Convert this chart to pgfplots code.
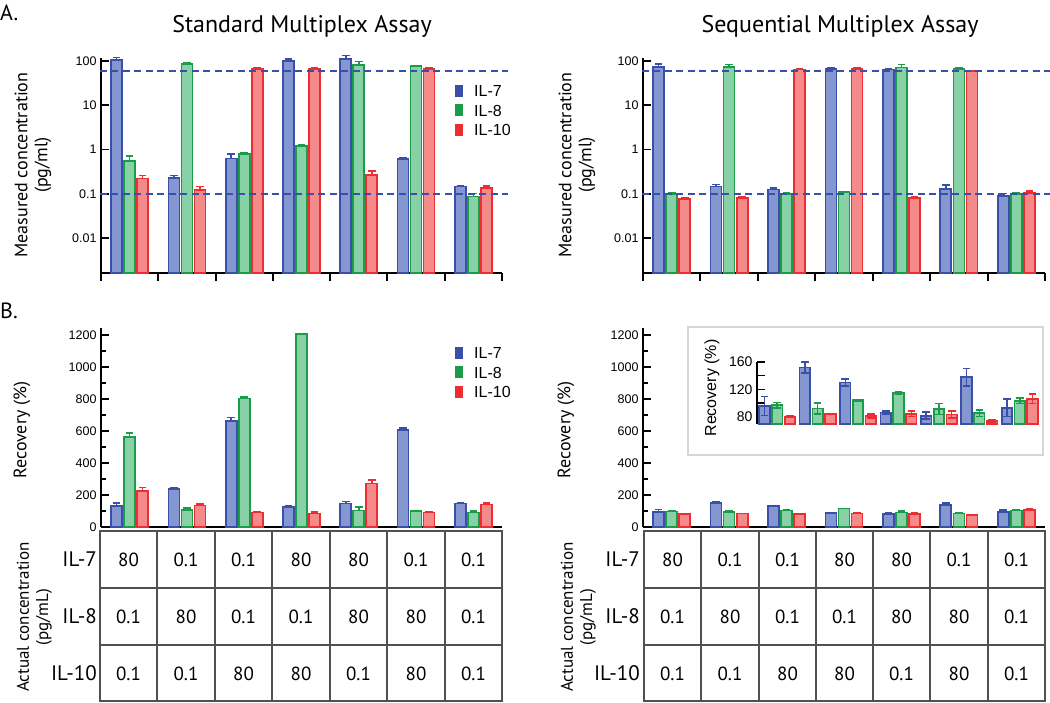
\documentclass[border=0pt]{standalone}
\usepackage{pgfplots}
\usepackage{pgfplotstable}
\pgfplotsset{compat=1.18}
\usepackage{fontspec}
\setmainfont{Liberation Sans}
\newfontfamily\myriad{PT Sans}

\definecolor{bS}{HTML}{3A4FA8}
\definecolor{bF}{HTML}{8597D0}
\definecolor{gS}{HTML}{1A9C4B}
\definecolor{gF}{HTML}{88D0A5}
\definecolor{rS}{HTML}{EE2D33}
\definecolor{rF}{HTML}{F58A8A}
\definecolor{dashc}{HTML}{3A4FA8}
\definecolor{gridc}{HTML}{505050}
\definecolor{boxc}{HTML}{D6D6D6}

\pgfplotsset{
  panel/.style={
    scale only axis, anchor=south west,
    xmin=-0.5, xmax=6.5, xtick=\empty,
    axis x line*=bottom, axis y line*=left,
    axis line style={line width=2pt, black, -},
    tick align=inside, major tick length=8pt, minor tick length=5pt,
    ytick style={line width=1.6pt, black},
    minor y tick style={line width=1.4pt, black},
    yticklabel style={font=\fontsize{12.5}{13}\selectfont, xshift=-1pt},
    clip=false,
  },
  bars/.style n args={4}{
    ybar, bar width=#3, bar shift=0pt, draw=#1, fill=#2, line width=1.7pt,
    error bars/y dir=#4, error bars/y explicit,
    error bars/error bar style={line width=1.5pt, draw=#1, solid},
    error bars/error mark options={line width=1.5pt, draw=#1, mark size=3.8pt, rotate=90},
  },
  refline/.style={dashc, line width=2pt, dash pattern=on 7pt off 4.5pt, no marks, forget plot},
}

% Panel A, standard: value, +error for IL-7 (a), IL-8 (b), IL-10 (c)
\pgfplotstableread{
x a ea b eb c ec
0 105 16 0.54 0.17 0.22 0.04
1 0.23 0.03 85 8 0.12 0.026
2 0.63 0.17 0.8 0.05 67 4
3 100 11 1.19 0.07 65 7
4 111 21 81 16 0.27 0.054
5 0.6 0.06 76 2.5 67 4
6 0.146 0.008 0.086 0.014 0.134 0.015
}\dataAL
% Panel A, sequential
\pgfplotstableread{
x a ea b eb c ec
0 73 12 0.1 0.003 0.077 0.003
1 0.146 0.016 73 9.6 0.081 0.003
2 0.125 0.009 0.1 0.003 64 3
3 66 3.5 0.109 0.004 66 3
4 64 3 71 11.6 0.08 0.007
5 0.13 0.027 66 5 58 2
6 0.089 0.011 0.1 0.003 0.105 0.011
}\dataAR
% Panel B, standard recovery
\pgfplotstableread{
x a ea b eb c ec
0 131 19 562 25 227 19
1 237 6 108 12 135 8
2 662 21 804 8 90 6
3 127 8 1206 4 85 10
4 146 12 104 21 271 23
5 608 10 98 4 90 6
6 146 8 90 10 140 10
}\dataBL
% Panel B, sequential recovery
\pgfplotstableread{
x a ea b eb c ec
0 95.6 13.7 97 4 80 1
1 152 8 92 8 84 1
2 130 5 104 1 81 3
3 86 2 115 2 84 4
4 81.5 5 91 8 83 5
5 137.6 12.7 85 5 74 2
6 93 12.7 103 4 106 7
}\dataBR

\begin{document}
\begin{tikzpicture}
\path[use as bounding box] (0pt,0pt) rectangle (1050pt,-703pt);

% ---------- Panel A left ----------
\begin{axis}[panel, at={(101pt,-273pt)}, width=401pt, height=215pt,
  ymode=log, log origin=infty, ymin=0.001618, ymax=116.9,
  ytick={0.01,0.1,1,10,100}, yticklabels={0.01,0.1,1,10,100}, yminorticks=false]
  \addplot[bars={bS}{bF}{11pt}{plus}] table[x expr=\thisrow{x}-0.227,y=a,y error=ea]{\dataAL};
  \addplot[bars={gS}{gF}{11pt}{plus}] table[x=x,y=b,y error=eb]{\dataAL};
  \addplot[bars={rS}{rF}{11pt}{plus}] table[x expr=\thisrow{x}+0.227,y=c,y error=ec]{\dataAL};
  \addplot[refline] coordinates {(-0.52,60) (6.6,60)};
  \addplot[refline] coordinates {(-0.52,0.1) (6.6,0.1)};
  \pgfplotsinvokeforeach{0,...,7}{\draw[black, line width=2pt] (rel axis cs:#1/7,0) -- ++(0pt,-8pt);}
\end{axis}

% ---------- Panel A right ----------
\begin{axis}[panel, at={(643pt,-273pt)}, width=402pt, height=215pt,
  ymode=log, log origin=infty, ymin=0.001618, ymax=116.9,
  ytick={0.01,0.1,1,10,100}, yticklabels={0.01,0.1,1,10,100}, yminorticks=false]
  \addplot[bars={bS}{bF}{11pt}{plus}] table[x expr=\thisrow{x}-0.227,y=a,y error=ea]{\dataAR};
  \addplot[bars={gS}{gF}{11pt}{plus}] table[x=x,y=b,y error=eb]{\dataAR};
  \addplot[bars={rS}{rF}{11pt}{plus}] table[x expr=\thisrow{x}+0.227,y=c,y error=ec]{\dataAR};
  \addplot[refline] coordinates {(-0.52,58) (6.59,58)};
  \addplot[refline] coordinates {(-0.52,0.1) (6.59,0.1)};
  \pgfplotsinvokeforeach{0,...,7}{\draw[black, line width=2pt] (rel axis cs:#1/7,0) -- ++(0pt,-8pt);}
\end{axis}

% ---------- Panel B left ----------
\begin{axis}[panel, at={(101pt,-527pt)}, width=401pt, height=199pt,
  ymin=0, ymax=1243.75,
  ytick={0,200,...,1200}, yticklabels={0,200,400,600,800,1000,1200}, minor y tick num=1]
  \addplot[bars={bS}{bF}{11pt}{plus}] table[x expr=\thisrow{x}-0.227,y=a,y error=ea]{\dataBL};
  \addplot[bars={gS}{gF}{11pt}{plus}] table[x=x,y=b,y error=eb]{\dataBL};
  \addplot[bars={rS}{rF}{11pt}{plus}] table[x expr=\thisrow{x}+0.227,y=c,y error=ec]{\dataBL};
\end{axis}

% ---------- Panel B right ----------
\draw[draw=boxc, line width=2pt] (688pt,-327pt) rectangle (1043pt,-455pt);
\begin{axis}[panel, at={(643pt,-527pt)}, width=402pt, height=199pt,
  ymin=0, ymax=1243.75,
  ytick={0,200,...,1200}, yticklabels={0,200,400,600,800,1000,1200}, minor y tick num=1]
  \addplot[bars={bS}{bF}{11pt}{plus}] table[x expr=\thisrow{x}-0.227,y=a,y error=ea]{\dataBR};
  \addplot[bars={gS}{gF}{11pt}{plus}] table[x=x,y=b,y error=eb]{\dataBR};
  \addplot[bars={rS}{rF}{11pt}{plus}] table[x expr=\thisrow{x}+0.227,y=c,y error=ec]{\dataBR};
\end{axis}

% ---------- Inset ----------
\begin{axis}[panel, at={(757pt,-424pt)}, width=283pt, height=62pt,
  axis x line=none, clip=true,
  ymin=69.3, ymax=160,
  ytick={80,120,160}, yticklabels={80,120,160}, minor ytick={100,140},
  minor tick length=8pt,
  yticklabel style={font=\fontsize{14}{14}\selectfont}]
  \addplot[bars={bS}{bF}{10.5pt}{both}] table[x expr=\thisrow{x}-0.3166,y=a,y error=ea]{\dataBR};
  \addplot[bars={gS}{gF}{10.5pt}{both}] table[x=x,y=b,y error=eb]{\dataBR};
  \addplot[bars={rS}{rF}{10.5pt}{both}] table[x expr=\thisrow{x}+0.3166,y=c,y error=ec]{\dataBR};
\end{axis}
\node[rotate=90, font=\fontsize{16}{16}\selectfont] at (712pt,-388pt) {Recovery (\%)};

% ---------- Tables ----------
\foreach \xl/\xr in {100/502, 644/1045} {
  \foreach \r in {531,588,645,701} \draw[draw=gridc, line width=2pt] (\xl pt-1pt,-\r pt) -- (\xr pt+1pt,-\r pt);
}
\foreach \c in {100,157,215,272,330,387,445,502,644,701,759,816,873,930,988,1045}
  \draw[draw=gridc, line width=2pt] (\c pt,-531pt) -- (\c pt,-701pt);
\foreach \c/\a/\b/\d in {128.5/80/0.1/0.1, 186/0.1/80/0.1, 243.5/0.1/0.1/80, 301/80/0.1/80,
    358.5/80/80/0.1, 416/0.1/80/80, 473.5/0.1/0.1/0.1,
    672.5/80/0.1/0.1, 730/0.1/80/0.1, 787.5/0.1/0.1/80, 844.5/80/0.1/80,
    901.5/80/80/0.1, 959/0.1/80/80, 1016.5/0.1/0.1/0.1} {
  \node[font=\myriad\fontsize{19}{19}\selectfont] at (\c pt,-559.5pt) {\a};
  \node[font=\myriad\fontsize{19}{19}\selectfont] at (\c pt,-616.5pt) {\b};
  \node[font=\myriad\fontsize{19}{19}\selectfont] at (\c pt,-673.5pt) {\d};
}
\foreach \x in {97, 640} {
  \node[anchor=east, font=\myriad\fontsize{21}{21}\selectfont, inner sep=0pt] at (\x pt,-559.5pt) {IL-7};
  \node[anchor=east, font=\myriad\fontsize{21}{21}\selectfont, inner sep=0pt] at (\x pt,-616.5pt) {IL-8};
  \node[anchor=east, font=\myriad\fontsize{21}{21}\selectfont, inner sep=0pt] at (\x pt,-673.5pt) {IL-10};
}

% ---------- Axis titles ----------
\foreach \x in {0, 544} {
  \node[rotate=90, font=\myriad\fontsize{18}{18}\selectfont] at (\x pt+21pt,-165pt) {Measured concentration};
  \node[rotate=90, font=\myriad\fontsize{18}{18}\selectfont] at (\x pt+43pt,-165pt) {(pg/ml)};
  \node[rotate=90, font=\myriad\fontsize{18}{18}\selectfont] at (\x pt+22pt,-430pt) {Recovery (\%)};
  \node[rotate=90, font=\myriad\fontsize{17}{17}\selectfont] at (\x pt+23pt,-617pt) {Actual concentration};
  \node[rotate=90, font=\myriad\fontsize{17}{17}\selectfont] at (\x pt+44pt,-617pt) {(pg/mL)};
}

% ---------- Legends ----------
\foreach \y in {91, 353} {
  \fill[bS] (455pt,-\y pt+6pt) rectangle (463pt,-\y pt-6pt);
  \fill[gS] (455pt,-\y pt-13.5pt) rectangle (463pt,-\y pt-25.5pt);
  \fill[rS] (455pt,-\y pt-33pt) rectangle (463pt,-\y pt-45pt);
  \node[anchor=west, font=\fontsize{16}{16}\selectfont, inner sep=0pt] at (474pt,-\y pt) {IL-7};
  \node[anchor=west, font=\fontsize{16}{16}\selectfont, inner sep=0pt] at (474pt,-\y pt-19.5pt) {IL-8};
  \node[anchor=west, font=\fontsize{16}{16}\selectfont, inner sep=0pt] at (474pt,-\y pt-39pt) {IL-10};
}

% ---------- Titles and panel letters ----------
\node[font=\myriad\fontsize{24}{24}\selectfont] at (302pt,-26pt) {Standard Multiplex Assay};
\node[font=\myriad\fontsize{24}{24}\selectfont] at (840pt,-26pt) {Sequential Multiplex Assay};
\node[anchor=west, inner sep=0pt, font=\myriad\fontsize{22}{22}\selectfont] at (0pt,-13pt) {A.};
\node[anchor=west, inner sep=0pt, font=\myriad\fontsize{22}{22}\selectfont] at (0pt,-311pt) {B.};
\end{tikzpicture}
\end{document}
